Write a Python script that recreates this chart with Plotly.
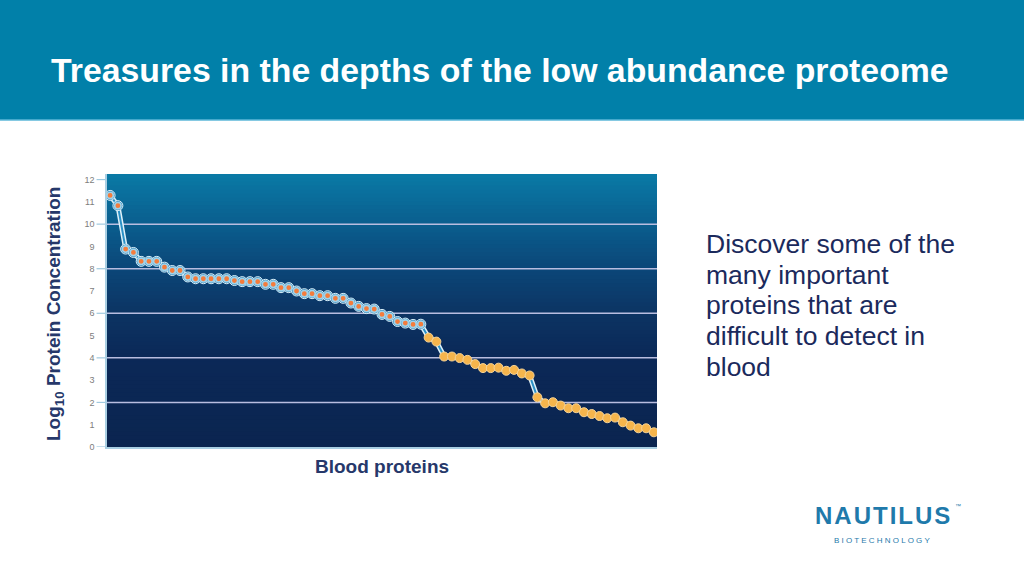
import plotly.graph_objects as go

# ---- data ----
protein_rank = list(range(71))
log10_conc = [
    11.29, 10.83, 8.88, 8.73, 8.33, 8.33, 8.33, 8.07, 7.92, 7.92,
    7.63, 7.55, 7.55, 7.55, 7.55, 7.55, 7.47, 7.42, 7.42, 7.42,
    7.30, 7.30, 7.15, 7.15, 7.00, 6.88, 6.88, 6.79, 6.79, 6.67,
    6.67, 6.46, 6.31, 6.21, 6.19, 5.95, 5.86, 5.63, 5.56, 5.50,
    5.51,
    4.91, 4.73, 4.06, 4.06, 3.99, 3.91, 3.72, 3.54, 3.54, 3.56,
    3.42, 3.46, 3.30, 3.21, 2.23, 1.96, 2.01, 1.86, 1.74, 1.74,
    1.56, 1.48, 1.39, 1.29, 1.32, 1.11, 0.96, 0.84, 0.84, 0.66,
]
n_high = 41  # first group (orange dots with blue rings)
y_tick_values = list(range(0, 13))
y_tick_labels = [str(v) for v in y_tick_values]
grid_values = [2, 4, 6, 8, 10]
tick_mark_values = [0, 2, 4, 6, 8, 10, 12]

title_text = "Treasures in the depths of the low abundance proteome"
side_lines = ["Discover some of the", "many important", "proteins that are",
              "difficult to detect in", "blood"]

Y_MAX = 12.25
NAVY = "#1b2a5c"
FONT = "Liberation Sans, Arial, Helvetica, sans-serif"
H = "\u200a"  # hair space for letter spacing

fig = go.Figure()

# connecting line: light outline + blue core
fig.add_trace(go.Scatter(x=protein_rank, y=log10_conc, mode="lines",
                         line=dict(color="#dff1f9", width=5), hoverinfo="skip"))
fig.add_trace(go.Scatter(x=protein_rank, y=log10_conc, mode="lines",
                         line=dict(color="#2a90c6", width=2), hoverinfo="skip"))
# high-abundance markers
fig.add_trace(go.Scatter(x=protein_rank[:n_high], y=log10_conc[:n_high], mode="markers",
                         marker=dict(size=10, color="#2f86b8",
                                     line=dict(color="#d9eef8", width=1)),
                         hoverinfo="skip"))
fig.add_trace(go.Scatter(x=protein_rank[:n_high], y=log10_conc[:n_high], mode="markers",
                         marker=dict(size=6.4, color="#f47c3c",
                                     line=dict(color="#9fd2ea", width=1.6)),
                         hoverinfo="skip"))
# low-abundance markers
fig.add_trace(go.Scatter(x=protein_rank[n_high:], y=log10_conc[n_high:], mode="markers",
                         marker=dict(size=9, color="#f6b54c",
                                     line=dict(color="#f5d397", width=1)),
                         hoverinfo="skip"))

shapes = []
# header band
hb = (576 - 120 - 129) / 273.0
shapes.append(dict(type="rect", xref="paper", yref="paper", x0=-1, x1=2,
                   y0=hb, y1=3, fillcolor="#0180a9",
                   line=dict(width=0), layer="below"))
shapes.append(dict(type="line", xref="paper", yref="paper", x0=-1, x1=2,
                   y0=hb, y1=hb, line=dict(color="#5db7d8", width=1.5), layer="below"))

# gradient plot background
stops = [(0.0, (11, 37, 80)), (4.0, (11, 40, 87)), (6.0, (12, 52, 99)),
         (8.0, (11, 70, 120)), (10.0, (10, 94, 142)), (Y_MAX, (10, 122, 166))]


def col_at(v):
    for (a, ca), (b, cb) in zip(stops[:-1], stops[1:]):
        if a <= v <= b:
            t = (v - a) / (b - a)
            c = [round(ca[i] + (cb[i] - ca[i]) * t) for i in range(3)]
            return "rgb(%d,%d,%d)" % tuple(c)
    return "rgb(%d,%d,%d)" % stops[-1][1]


nb = 70
for i in range(nb):
    y0 = Y_MAX * i / nb
    y1 = min(Y_MAX, Y_MAX * (i + 1) / nb + 0.1)
    shapes.append(dict(type="rect", xref="paper", yref="y", x0=0, x1=1, y0=y0, y1=y1,
                       fillcolor=col_at(Y_MAX * (i + 0.5) / nb), line=dict(width=0),
                       layer="below"))

for g in grid_values:
    shapes.append(dict(type="line", xref="paper", yref="y", x0=0, x1=1, y0=g, y1=g,
                       line=dict(color="#b9bde0", width=1.5), layer="below"))
for t in tick_mark_values:
    shapes.append(dict(type="line", xref="paper", yref="y", x0=-0.019, x1=0, y0=t, y1=t,
                       line=dict(color="#9fc9df", width=1.2), layer="below"))


def px(x):
    return (x - 107) / 550.0


def py(y):
    return (576 - y - 129) / 273.0


annotations = [
    dict(text="<b>" + title_text + "</b>", xref="paper", yref="paper",
         x=px(500), y=py(70), showarrow=False,
         font=dict(family=FONT, size=33.8, color="white"), xanchor="center", yanchor="middle"),
    dict(text="<b>Blood proteins</b>", xref="paper", yref="paper",
         x=px(382), y=py(466), showarrow=False,
         font=dict(family=FONT, size=19, color="#26386a"), xanchor="center", yanchor="middle"),
    dict(text="<b>Log<sub>10</sub> Protein Concentration</b>", xref="paper", yref="paper",
         x=px(55), y=py(314), showarrow=False, textangle=-90,
         font=dict(family=FONT, size=19, color="#26386a"), xanchor="center", yanchor="middle"),
    dict(text="<b>" + H.join("NAUTILUS") + "</b>", xref="paper", yref="paper",
         x=px(882), y=py(515), showarrow=False,
         font=dict(family=FONT, size=24, color="#1f7aab"),
         xanchor="center", yanchor="middle"),
    dict(text="™", xref="paper", yref="paper",
         x=px(958), y=py(506), showarrow=False,
         font=dict(family=FONT, size=6, color="#1f7aab"), xanchor="center", yanchor="middle"),
    dict(text=" ".join("BIOTECHNOLOGY"), xref="paper", yref="paper",
         x=px(882), y=py(540), showarrow=False,
         font=dict(family=FONT, size=8, color="#1f7aab"), xanchor="center", yanchor="middle"),
]
line_y = [244, 275, 305, 336, 367]
for txt, yy in zip(side_lines, line_y):
    annotations.append(dict(text=txt, xref="paper", yref="paper",
                            x=px(704), y=py(yy),
                            showarrow=False, xanchor="left", yanchor="middle",
                            font=dict(family=FONT, size=26.5, color=NAVY)))

fig.update_layout(
    width=1024, height=576, autosize=False,
    margin=dict(l=107, r=367, t=174, b=129, pad=0),
    paper_bgcolor="white", plot_bgcolor="#0b2550",
    showlegend=False,
    shapes=shapes, annotations=annotations,
    xaxis=dict(range=[-0.4, 70.4], showgrid=False, zeroline=False, showticklabels=False,
               ticks="", showline=True, linecolor="#a9cfe3", linewidth=1.5, fixedrange=True),
    yaxis=dict(range=[0, Y_MAX], tickvals=y_tick_values, ticktext=y_tick_labels,
               showgrid=False, zeroline=False, ticks="", ticklabelstandoff=9,
               tickfont=dict(family=FONT, size=9, color="#7d7d7d"),
               showline=True, linecolor="#a9cfe3", linewidth=1.5, fixedrange=True),
)

fig.write_html("out.html", config={"displayModeBar": False},
               post_script="document.body.style.margin='0px';"
                           "document.body.style.overflow='hidden';")
